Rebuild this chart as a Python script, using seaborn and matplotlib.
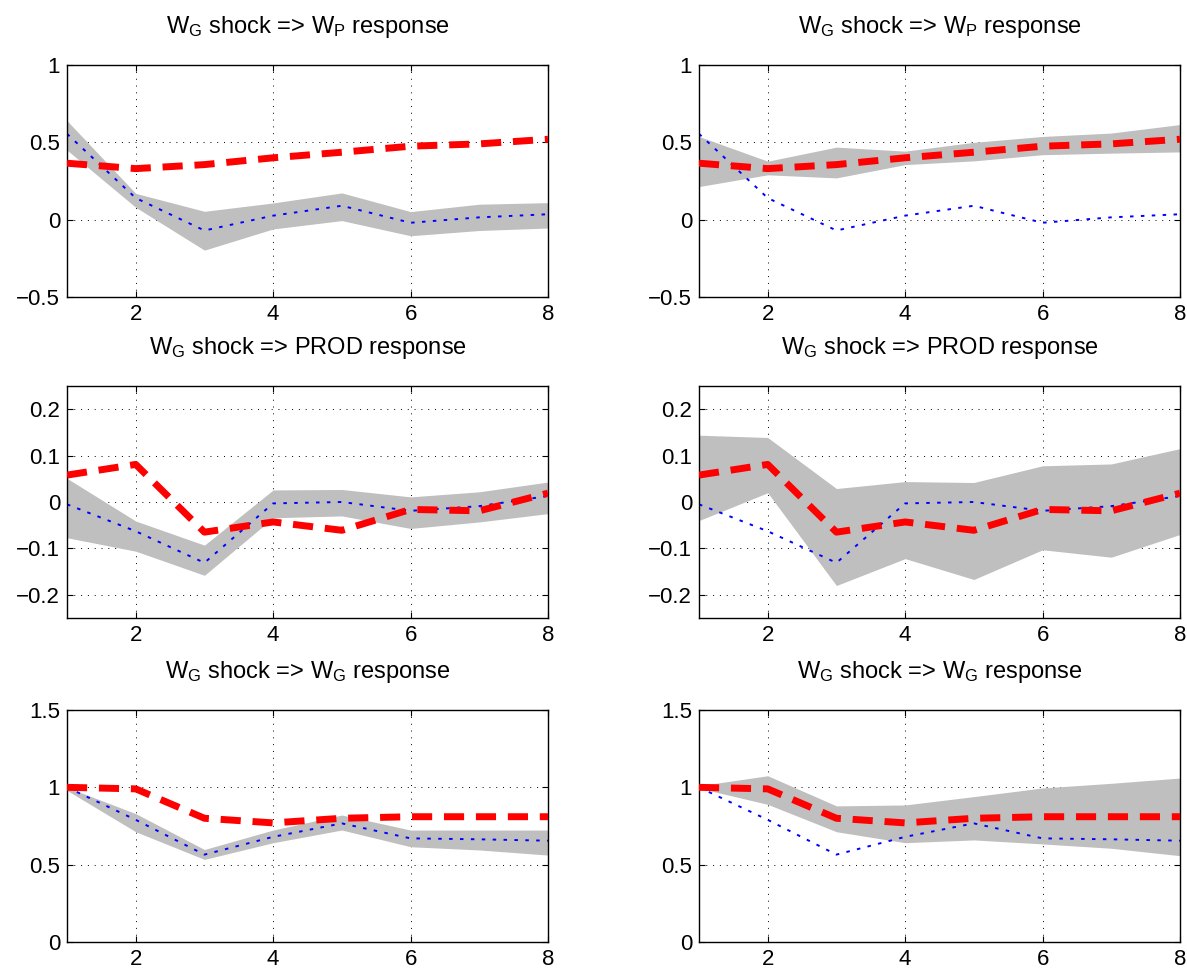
import numpy as np
import pandas as pd
import matplotlib
matplotlib.use("Agg")
import matplotlib.pyplot as plt
import seaborn as sns

# ---------------- data ----------------
horizon = [1, 2, 3, 4, 5, 6, 7, 8]

# W_G shock => W_P response
wp_red = [0.365, 0.33, 0.356, 0.40, 0.436, 0.475, 0.49, 0.52]
wp_blue = [0.555, 0.14, -0.07, 0.026, 0.09, -0.02, 0.015, 0.035]
wp_band_left_lo = [0.45, 0.08, -0.197, -0.06, -0.006, -0.104, -0.07, -0.054]
wp_band_left_hi = [0.64, 0.17, 0.054, 0.108, 0.173, 0.052, 0.10, 0.11]
wp_band_right_lo = [0.214, 0.29, 0.27, 0.356, 0.38, 0.42, 0.43, 0.438]
wp_band_right_hi = [0.538, 0.378, 0.469, 0.443, 0.50, 0.538, 0.56, 0.615]

# W_G shock => PROD response
prod_red = [0.058, 0.081, -0.065, -0.043, -0.061, -0.016, -0.019, 0.019]
prod_blue = [-0.005, -0.063, -0.131, -0.003, 0.0, -0.019, -0.009, 0.013]
prod_band_left_lo = [-0.077, -0.106, -0.158, -0.034, -0.030, -0.057, -0.043, -0.025]
prod_band_left_hi = [0.051, -0.041, -0.093, 0.026, 0.027, 0.011, 0.022, 0.043]
prod_band_right_lo = [-0.04, 0.02, -0.18, -0.122, -0.167, -0.103, -0.119, -0.07]
prod_band_right_hi = [0.144, 0.139, 0.029, 0.044, 0.042, 0.078, 0.082, 0.115]

# W_G shock => W_G response
wg_red = [1.0, 0.99, 0.80, 0.77, 0.80, 0.81, 0.81, 0.81]
wg_blue = [1.0, 0.79, 0.565, 0.68, 0.767, 0.67, 0.664, 0.655]
wg_band_left_lo = [0.98, 0.713, 0.534, 0.642, 0.724, 0.616, 0.595, 0.562]
wg_band_left_hi = [1.0, 0.83, 0.598, 0.724, 0.821, 0.724, 0.724, 0.724]
wg_band_right_lo = [0.995, 0.89, 0.713, 0.642, 0.66, 0.634, 0.606, 0.558]
wg_band_right_hi = [1.01, 1.075, 0.88, 0.886, 0.94, 0.996, 1.026, 1.06]

titles = [r"W$_G$ shock => W$_P$ response",
          r"W$_G$ shock => PROD response",
          r"W$_G$ shock => W$_G$ response"]
x_ticks = [2, 4, 6, 8]
y_ticks = [[-0.5, 0, 0.5, 1], [-0.2, -0.1, 0, 0.1, 0.2], [0, 0.5, 1, 1.5]]
y_tick_labels = [["\u22120.5", "0", "0.5", "1"],
                 ["\u22120.2", "\u22120.1", "0", "0.1", "0.2"],
                 ["0", "0.5", "1", "1.5"]]
y_limits = [(-0.5, 1), (-0.25, 0.25), (0, 1.5)]

rows = [
    (wp_red, wp_blue, (wp_band_left_lo, wp_band_left_hi), (wp_band_right_lo, wp_band_right_hi)),
    (prod_red, prod_blue, (prod_band_left_lo, prod_band_left_hi), (prod_band_right_lo, prod_band_right_hi)),
    (wg_red, wg_blue, (wg_band_left_lo, wg_band_left_hi), (wg_band_right_lo, wg_band_right_hi)),
]

# ---------------- style ----------------
sns.set_theme(style="ticks")
plt.rcParams["font.family"] = ["Liberation Sans", "DejaVu Sans"]
plt.rcParams["mathtext.fontset"] = "custom"
plt.rcParams["mathtext.rm"] = "Liberation Sans"
plt.rcParams["mathtext.it"] = "Liberation Sans:italic"
plt.rcParams["mathtext.default"] = "regular"
plt.rcParams["axes.unicode_minus"] = True

fig = plt.figure(figsize=(11.87, 9.74), dpi=100)

col_x = [67 / 1187, 699 / 1187]
col_w = 481 / 1187
row_b = [1 - 297 / 974, 1 - 618 / 974, 1 - 942 / 974]
row_h = 232 / 974

for r, (red, blue, band_l, band_r) in enumerate(rows):
    for c in range(2):
        ax = fig.add_axes([col_x[c], row_b[r], col_w, row_h])
        lo, hi = band_l if c == 0 else band_r
        ax.fill_between(horizon, lo, hi, color="#bfbfbf", linewidth=0, zorder=1)
        df = pd.DataFrame({"h": horizon, "red": red, "blue": blue})
        sns.lineplot(data=df, x="h", y="blue", ax=ax, color="#0000ff",
                     linewidth=1.4, zorder=2)
        ax.lines[-1].set_linestyle((0, (1.8, 3.8)))
        sns.lineplot(data=df, x="h", y="red", ax=ax, color="#ff0000",
                     linewidth=5.0, zorder=3)
        ax.lines[-1].set_linestyle((0, (2.9, 1.7)))
        ax.set_xlim(1, 8)
        ax.set_ylim(*y_limits[r])
        ax.set_xticks(x_ticks)
        ax.set_yticks(y_ticks[r])
        ax.set_yticklabels(y_tick_labels[r])
        ax.set_xlabel("")
        ax.set_ylabel("")
        ax.set_axisbelow(True)
        ax.grid(True, color="black", linestyle=(0, (1, 6)), linewidth=0.7)
        ax.tick_params(direction="in", length=4, width=0.8, top=True, right=True,
                       labelsize=16, colors="black", pad=5)
        for s in ax.spines.values():
            s.set_linewidth(1.0)
            s.set_color("black")
            s.set_visible(True)
        ax.set_title(titles[r], fontsize=17, pad=23, color="black")

fig.savefig("out.png", dpi=100, facecolor="white")
